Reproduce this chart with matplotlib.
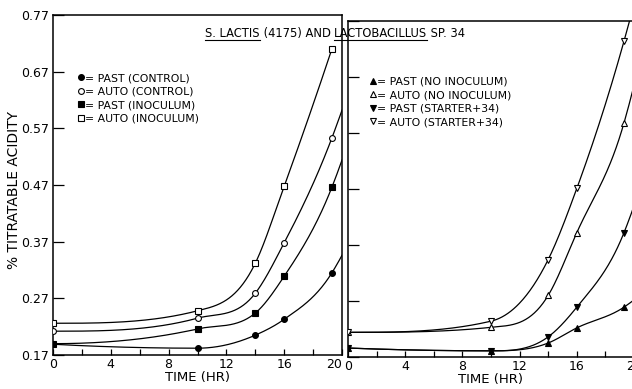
import matplotlib
matplotlib.use("Agg")
import matplotlib.pyplot as plt
import numpy as np
from matplotlib.lines import Line2D

# sampling times (hr)
times = [0, 10, 14, 16, 19.3]
t_end = 20

# left panel: control / inoculum
past_control = [0.189, 0.182, 0.205, 0.233, 0.315]
auto_control = [0.212, 0.235, 0.279, 0.368, 0.553]
past_inoc = [0.190, 0.216, 0.244, 0.309, 0.466]
auto_inoc = [0.226, 0.248, 0.332, 0.468, 0.710]
left_tails = [0.346, 0.602, 0.514, None]   # where each curve leaves the frame at 20 hr

# right panel: no inoculum / starter + 34
past_noinoc = [0.186, 0.181, 0.195, 0.222, 0.259]
auto_noinoc = [0.214, 0.223, 0.280, 0.392, 0.588]
past_starter = [0.186, 0.181, 0.206, 0.259, 0.392]
auto_starter = [0.214, 0.234, 0.344, 0.471, 0.734]
right_tails = [0.272, 0.655, 0.440, 0.800]

left_labels = ["= PAST (CONTROL)", "= AUTO (CONTROL)", "= PAST (INOCULUM)", "= AUTO (INOCULUM)"]
right_labels = ["= PAST (NO INOCULUM)", "= AUTO (NO INOCULUM)", "= PAST (STARTER+34)", "= AUTO (STARTER+34)"]

yticks = [0.17, 0.27, 0.37, 0.47, 0.57, 0.67, 0.77]
ytick_labels = ["0.17", "0.27", "0.37", "0.47", "0.57", "0.67", "0.77"]


def smooth(x, y, xs):
    # hermite curve with 3-point slopes, limited so it never wiggles
    x = np.asarray(x, float); y = np.asarray(y, float)
    n = len(x)
    h = np.diff(x); d = np.diff(y) / h
    m = np.zeros(n)
    for k in range(1, n - 1):
        if d[k - 1] * d[k] > 0:
            p = (h[k] * d[k - 1] + h[k - 1] * d[k]) / (h[k - 1] + h[k])
            lim = 3 * min(abs(d[k - 1]), abs(d[k]))
            m[k] = np.sign(p) * min(abs(p), lim)
    for k, j, dj in [(0, 1, d[0]), (n - 1, n - 2, d[-1])]:
        e = 2 * dj - m[j]
        m[k] = np.sign(dj) * min(abs(e), 3 * abs(dj)) if e * dj > 0 else 0.0
    idx = np.clip(np.searchsorted(x, xs) - 1, 0, n - 2)
    s = (xs - x[idx]) / h[idx]
    h00 = 2 * s**3 - 3 * s**2 + 1
    h10 = s**3 - 2 * s**2 + s
    h01 = -2 * s**3 + 3 * s**2
    h11 = s**3 - s**2
    return h00 * y[idx] + h10 * h[idx] * m[idx] + h01 * y[idx + 1] + h11 * h[idx] * m[idx + 1]


def curve(ax, vals, tail, marker, fill, ms):
    tx = list(times); ty = list(vals)
    if tail is not None:
        tx.append(t_end); ty.append(tail)
    xs = np.linspace(tx[0], tx[-1], 400)
    ax.plot(xs, smooth(tx, ty, xs), color="black", lw=0.9, zorder=2)
    ax.plot(times, vals, ls="none", marker=marker, ms=ms, mfc=fill, mec="black",
            mew=0.8, zorder=3)
    return Line2D([], [], ls="none", marker=marker, ms=ms, mfc=fill, mec="black", mew=0.8)


def style(ax):
    ax.set_xlim(0, 20)
    ax.set_ylim(0.17, 0.77)
    ax.set_xticks(np.arange(0, 21, 2))
    labels = ax.set_xticklabels([str(v) if v % 4 == 0 else "" for v in range(0, 21, 2)])
    ax.set_yticks(yticks)
    ax.tick_params(direction="in", labelsize=9, width=0.9, pad=3)
    ax.tick_params(axis="x", length=4, pad=2)
    ax.tick_params(axis="y", length=8)
    for sp in ax.spines.values():
        sp.set_linewidth(1.1)
    ax.set_xlabel("TIME (HR)", fontsize=9.5, labelpad=0)
    return labels


W, H = 632, 389
fig = plt.figure(figsize=(W / 100, H / 100), dpi=100)
axL = fig.add_axes([53 / W, 1 - 355 / H, 289 / W, 340 / H])
axR = fig.add_axes([348 / W, 1 - 357 / H, 286 / W, 336 / H])

handles = []
for vals, tail, mk, fc, ms in zip([past_control, auto_control, past_inoc, auto_inoc], left_tails,
                                  ["o", "o", "s", "s"], ["black", "white", "black", "white"],
                                  [4.2, 4.2, 4.0, 4.0]):
    handles.append(curve(axL, vals, tail, mk, fc, ms))
xlabs = style(axL)
xlabs[-1].set_horizontalalignment("right")   # keep "20" clear of the next panel's "0"
axL.set_yticklabels(ytick_labels)
axL.set_ylabel("% TITRATABLE ACIDITY", fontsize=10)
axL.yaxis.set_label_coords(-0.112, 0.485)
axL.legend(handles, left_labels, loc="upper left", bbox_to_anchor=(0.07, 0.845), frameon=False,
           fontsize=7.8, handlelength=0.5, handletextpad=0.1, labelspacing=0.32, borderpad=0)

handles = []
for vals, tail, mk, fc in zip([past_noinoc, auto_noinoc, past_starter, auto_starter], right_tails,
                              ["^", "^", "v", "v"], ["black", "white", "black", "white"]):
    handles.append(curve(axR, vals, tail, mk, fc, 4.6))
style(axR)
axR.set_yticklabels([])
axR.spines["right"].set_visible(False)
axR.legend(handles, right_labels, loc="upper left", bbox_to_anchor=(0.06, 0.85), frameon=False,
           fontsize=7.8, handlelength=0.5, handletextpad=0.1, labelspacing=0.32, borderpad=0)

# title with underlined organism names
fig.canvas.draw()
renderer = fig.canvas.get_renderer()
parts = [("S. LACTIS", True), (" (4175) AND ", False), ("LACTOBACILLUS", True), (" SP. 34", False)]
x = 205
y = H - 37
for s, under in parts:
    t = fig.text(x / W, y / H, s, fontsize=8.3, va="baseline", ha="left")
    bb = t.get_window_extent(renderer)
    if under:
        fig.add_artist(Line2D([bb.x0, bb.x1], [y - 3, y - 3], color="black", lw=0.8,
                              transform=None))
    x = bb.x1

fig.savefig("out.png", dpi=100)
